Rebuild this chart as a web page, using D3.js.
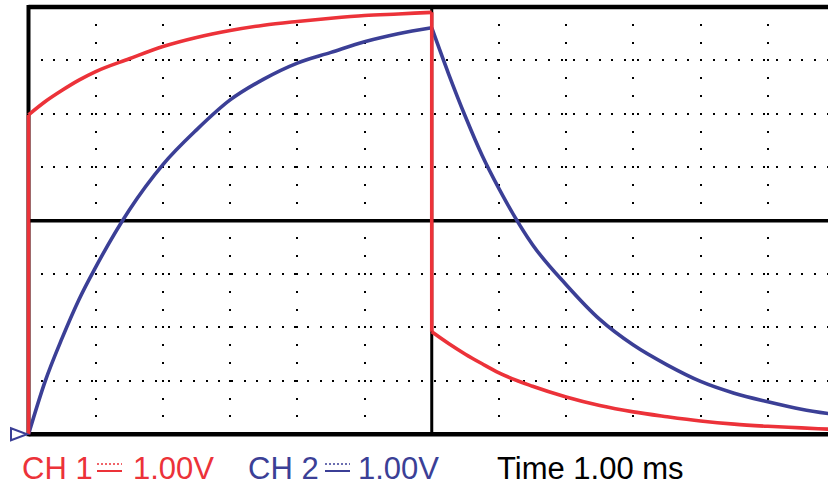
<!DOCTYPE html>
<html>
<head>
<meta charset="utf-8">
<script src="https://cdn.jsdelivr.net/npm/d3@7"></script>
<style>
    body { margin: 0; background: #fff; }
    svg { display: block; }
    text { font-family: 'Liberation Sans', Arial, sans-serif; font-size: 31px; }
</style>
</head>
<body>
<svg width="828" height="485"></svg>
<script>
// time in ms, voltage in V
const timeRise = [0, 0.25, 0.5, 0.75, 1, 1.5, 2, 2.5, 3, 3.5, 4, 4.5, 5, 5.5, 6];
const timeFall = [6, 6.25, 6.5, 6.75, 7, 7.5, 8, 8.5, 9, 9.5, 10, 10.5, 11, 11.5, 12];

const ch1Rise = [5.98, 6.23, 6.44, 6.63, 6.79, 7.03, 7.26, 7.43, 7.56, 7.66, 7.73, 7.79, 7.84, 7.87, 7.9];
const ch1Fall = [1.92, 1.7, 1.5, 1.32, 1.15, 0.9, 0.7, 0.54, 0.42, 0.33, 0.25, 0.19, 0.15, 0.12, 0.09];
const ch2Rise = [0, 1.0, 1.8, 2.52, 3.13, 4.2, 5.05, 5.7, 6.26, 6.65, 6.95, 7.15, 7.35, 7.5, 7.61];
const ch2Fall = [7.61, 6.75, 5.95, 5.22, 4.6, 3.55, 2.8, 2.15, 1.67, 1.3, 0.99, 0.77, 0.61, 0.47, 0.37];

const xDivs = d3.range(0, 13);
const yDivs = d3.range(0, 9);

const red = '#ec3239';
const blue = '#3b3f96';

const svg = d3.select('svg');
const width = +svg.attr('width');

const x = d3.scaleLinear().domain([0, 12]).range([28.5, 835]);
const y = d3.scaleLinear().domain([0, 8]).range([434.3, 7]);

// grid dots
const grid = svg.append('g').attr('fill', '#000');

// dots along the horizontal grid lines
const hDots = [];
yDivs.slice(1, 8).filter(v => v !== 4).forEach(v => {
    for (let px = x(0) + 13.2; px < width; px += 12.68) hDots.push([px, y(v)]);
});
// dots along the vertical grid lines
const vDots = [];
xDivs.slice(1).filter(t => t !== 6).forEach(t => {
    for (let k = 1; k < 24; k++) vDots.push([x(t), y(k / 3)]);
});

grid.selectAll('rect.dot')
    .data(hDots.concat(vDots))
    .enter().append('rect')
    .attr('class', 'dot')
    .attr('x', d => Math.round(d[0]) - 1)
    .attr('y', d => Math.round(d[1]) - 1)
    .attr('width', 2)
    .attr('height', 2);

// centre lines and frame
const frame = svg.append('g').attr('stroke', '#000').attr('fill', 'none');
frame.append('line')
    .attr('x1', x(0)).attr('x2', width)
    .attr('y1', y(4)).attr('y2', y(4))
    .attr('stroke-width', 3.5);
frame.append('line')
    .attr('x1', x(6)).attr('x2', x(6))
    .attr('y1', y(0)).attr('y2', y(8))
    .attr('stroke-width', 3);
frame.append('line')
    .attr('x1', x(0)).attr('x2', width)
    .attr('y1', y(8)).attr('y2', y(8))
    .attr('stroke-width', 4.5);
frame.append('line')
    .attr('x1', x(0)).attr('x2', width)
    .attr('y1', y(0)).attr('y2', y(0))
    .attr('stroke-width', 4.5);
frame.append('line')
    .attr('x1', x(0)).attr('x2', x(0))
    .attr('y1', y(0) + 2).attr('y2', y(8) - 2)
    .attr('stroke-width', 4);

// traces
const curve = d3.line()
    .x(d => x(d[0]))
    .y(d => y(d[1]))
    .curve(d3.curveMonotoneX);
const straight = d3.line()
    .x(d => x(d[0]))
    .y(d => y(d[1]));

function trace(rise, fall, color, step) {
    const g = svg.append('g')
        .attr('fill', 'none')
        .attr('stroke', color)
        .attr('stroke-width', 3.6)
        .attr('stroke-linejoin', 'round');
    const r = timeRise.map((t, i) => [t, rise[i]]);
    const f = timeFall.map((t, i) => [t, fall[i]]);
    g.append('path').attr('d', curve(r));
    g.append('path').attr('d', curve(f));
    if (step) {
        g.append('path').attr('d', straight([[0, 0], r[0]]));
        g.append('path').attr('d', straight([r[r.length - 1], f[0]]));
    }
}

trace(ch2Rise, ch2Fall, blue, false);
trace(ch1Rise, ch1Fall, red, true);

// ground marker
svg.append('path')
    .attr('d', `M11,${y(0) - 6}L27,${y(0)}L11,${y(0) + 6}Z`)
    .attr('fill', '#fff')
    .attr('stroke', blue)
    .attr('stroke-width', 2);

// channel labels
const labels = [
    { name: 'CH 1', scale: '1.00V', color: red, x: 22, sx: 97, vx: 133 },
    { name: 'CH 2', scale: '1.00V', color: blue, x: 248, sx: 325, vx: 358 }
];
const baseline = 479;

labels.forEach(l => {
    svg.append('text').attr('x', l.x).attr('y', baseline).attr('fill', l.color).text(l.name);
    svg.append('line')
        .attr('x1', l.sx).attr('x2', l.sx + 25)
        .attr('y1', 464).attr('y2', 464)
        .attr('stroke', l.color).attr('stroke-width', 1.5)
        .attr('stroke-dasharray', '2,2');
    svg.append('line')
        .attr('x1', l.sx).attr('x2', l.sx + 25)
        .attr('y1', 471).attr('y2', 471)
        .attr('stroke', l.color).attr('stroke-width', 2);
    svg.append('text').attr('x', l.vx).attr('y', baseline).attr('fill', l.color).text(l.scale);
});

svg.append('text')
    .attr('x', 497)
    .attr('y', baseline)
    .attr('fill', '#000')
    .text('Time 1.00 ms');
</script>
</body>
</html>
